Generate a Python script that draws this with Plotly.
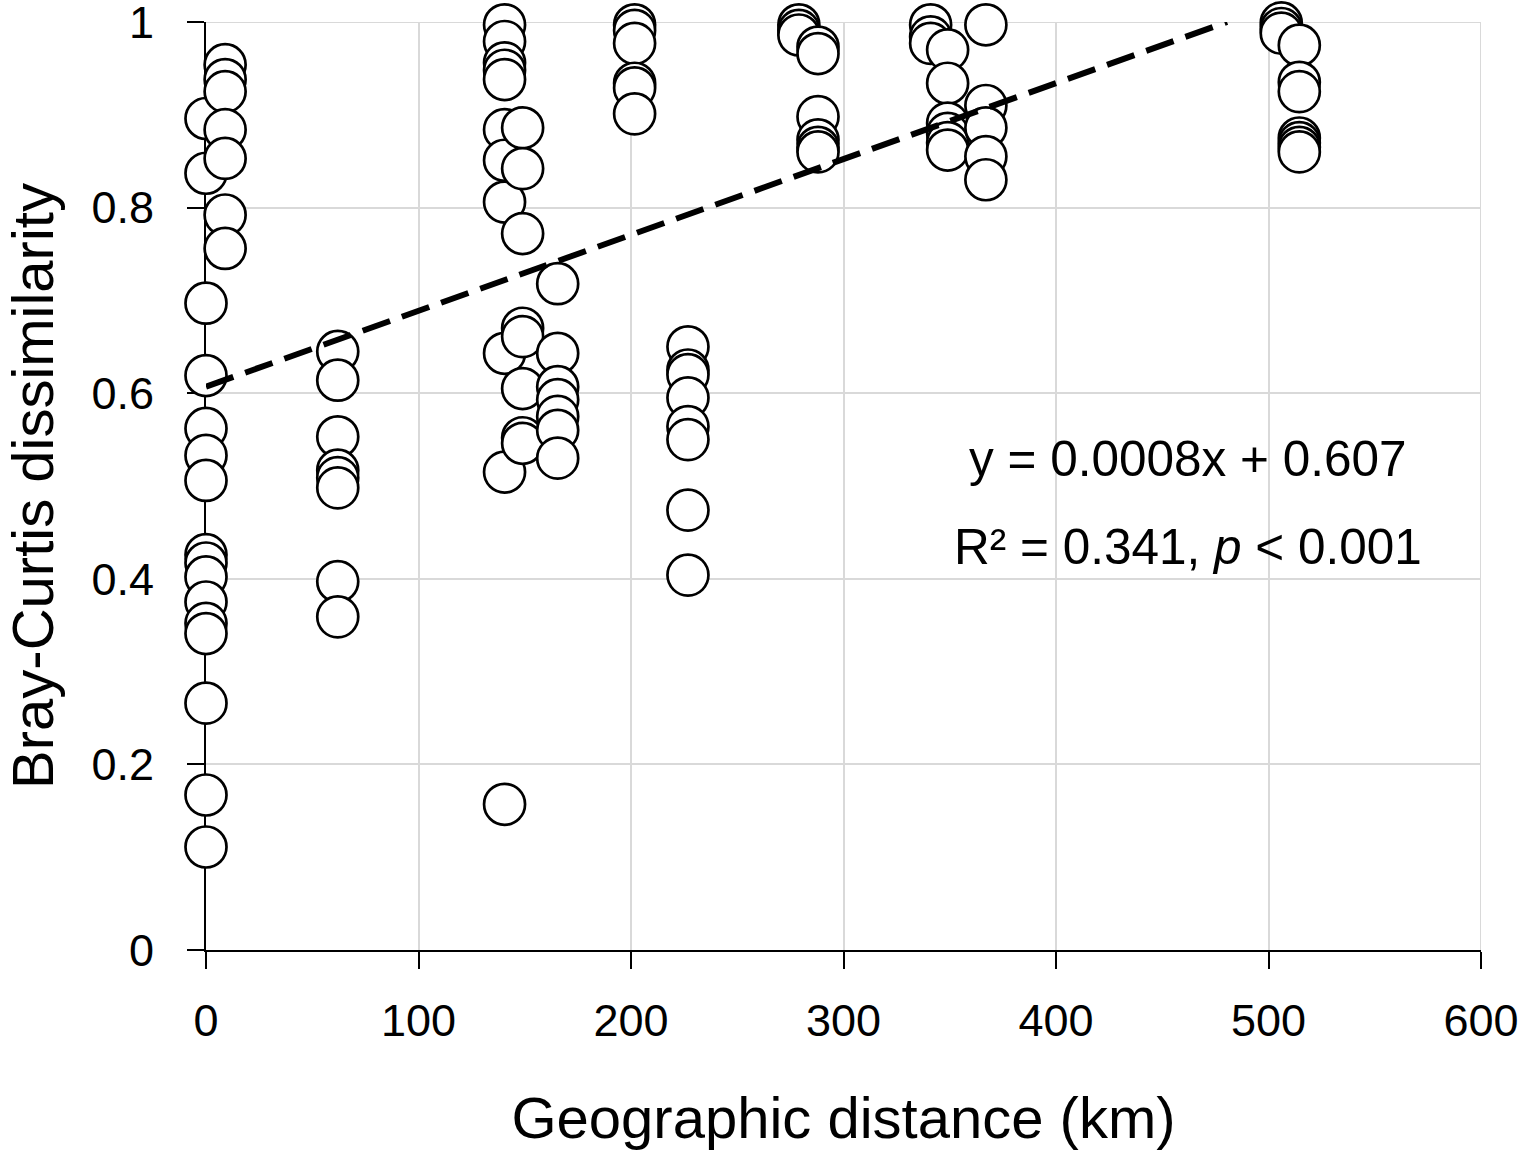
import plotly.graph_objects as go

# Geographic distance (km) groups and Bray-Curtis dissimilarity values
dist_0 = [0.896, 0.837, 0.697, 0.619, 0.562, 0.533, 0.506, 0.426, 0.417, 0.402,
          0.375, 0.352, 0.341, 0.266, 0.167, 0.111]
dist_9 = [0.954, 0.938, 0.925, 0.884, 0.853, 0.792, 0.756]
dist_62 = [0.645, 0.614, 0.553, 0.517, 0.509, 0.498, 0.397, 0.359]
dist_140 = [0.997, 0.979, 0.956, 0.948, 0.938, 0.884, 0.851, 0.806, 0.643, 0.515, 0.157]
dist_149 = [0.886, 0.842, 0.772, 0.670, 0.661, 0.605, 0.552, 0.546]
dist_165 = [0.718, 0.643, 0.607, 0.593, 0.575, 0.560, 0.530]
dist_202 = [0.997, 0.991, 0.977, 0.934, 0.929, 0.901]
dist_227 = [0.650, 0.625, 0.620, 0.595, 0.564, 0.550, 0.474, 0.404]
dist_279 = [0.997, 0.991, 0.986]
dist_288 = [0.973, 0.966, 0.898, 0.873, 0.865, 0.860]
dist_341 = [0.997, 0.984, 0.977]
dist_349 = [0.970, 0.934, 0.891, 0.880, 0.870, 0.862]
dist_367 = [0.997, 0.910, 0.886, 0.855, 0.830]
dist_506 = [0.999, 0.993, 0.988]
dist_515 = [0.975, 0.935, 0.925, 0.875, 0.870, 0.865, 0.860]

groups = [
    (0, dist_0), (9, dist_9), (62, dist_62), (140.5, dist_140), (149, dist_149),
    (165.5, dist_165), (201.7, dist_202), (226.8, dist_227), (279, dist_279),
    (288, dist_288), (341, dist_341), (349, dist_349), (367, dist_367),
    (506, dist_506), (514.5, dist_515),
]

trend_x = [0, 480.5]
trend_y = [0.607, 1.0]

eq_text = "y = 0.0008x + 0.607"
r2_text = "R² = 0.341, <i>p</i> < 0.001"

x_range = [0, 600]
y_range = [0, 1]
x_ticks = [0, 100, 200, 300, 400, 500, 600]
y_ticks = [0, 0.2, 0.4, 0.6, 0.8, 1]
y_tick_labels = ["0", "0.2", "0.4", "0.6", "0.8", "1"]

xs, ys = [], []
for gx, vals in groups:
    for v in vals:
        xs.append(gx)
        ys.append(v)

FONT = "Liberation Sans, Arial, sans-serif"
GRID = "#d9d9d9"

fig = go.Figure()
fig.add_trace(go.Scatter(
    x=xs, y=ys, mode="markers",
    marker=dict(size=41, color="white", line=dict(color="black", width=2.7)),
    cliponaxis=False, showlegend=False, hoverinfo="x+y",
))
fig.add_trace(go.Scatter(
    x=trend_x, y=trend_y, mode="lines",
    line=dict(color="black", width=6, dash="29px,12.6px"),
    cliponaxis=False, showlegend=False, hoverinfo="skip",
))

fig.add_annotation(x=462, y=0.5295, xref="x", yref="y", text=eq_text, showarrow=False,
                   font=dict(family=FONT, size=49.5, color="black"), xanchor="center", yanchor="middle")
fig.add_annotation(x=462, y=0.4345, xref="x", yref="y", text=r2_text, showarrow=False,
                   font=dict(family=FONT, size=49.5, color="black"), xanchor="center", yanchor="middle")

# gridlines at the far ends of the axes (plotly omits them at the range edges)
fig.add_shape(type="line", xref="x", yref="paper", x0=x_range[1], x1=x_range[1], y0=0, y1=1,
              line=dict(color=GRID, width=2), layer="below")
fig.add_shape(type="line", xref="paper", yref="y", x0=0, x1=1, y0=y_range[1], y1=y_range[1],
              line=dict(color=GRID, width=2), layer="below")

axis_common = dict(
    showline=True, linecolor="black", linewidth=2,
    ticks="outside", ticklen=17, tickwidth=2, tickcolor="black",
    showgrid=True, gridcolor=GRID, gridwidth=2,
    zeroline=False, layer="below traces", automargin=False,
    ticklabeloverflow="allow",
    tickfont=dict(family=FONT, size=45, color="black"),
)

fig.update_layout(
    width=1524, height=1155,
    margin=dict(l=206, r=43, t=22, b=205),
    paper_bgcolor="white", plot_bgcolor="white",
    font=dict(family=FONT, color="black"),
    xaxis=dict(range=x_range, tickvals=x_ticks, ticklabelstandoff=13,
               title=dict(text="Geographic distance (km)", font=dict(family=FONT, size=58), standoff=52),
               **axis_common),
    yaxis=dict(range=y_range, tickvals=y_ticks, ticktext=y_tick_labels, ticklabelstandoff=24,
               title=dict(text="Bray-Curtis dissimilarity", font=dict(family=FONT, size=58), standoff=39),
               **axis_common),
)

fig.write_html("out.html", config={"displayModeBar": False},
               post_script="document.body.style.margin='0';document.body.style.overflow='hidden';")
